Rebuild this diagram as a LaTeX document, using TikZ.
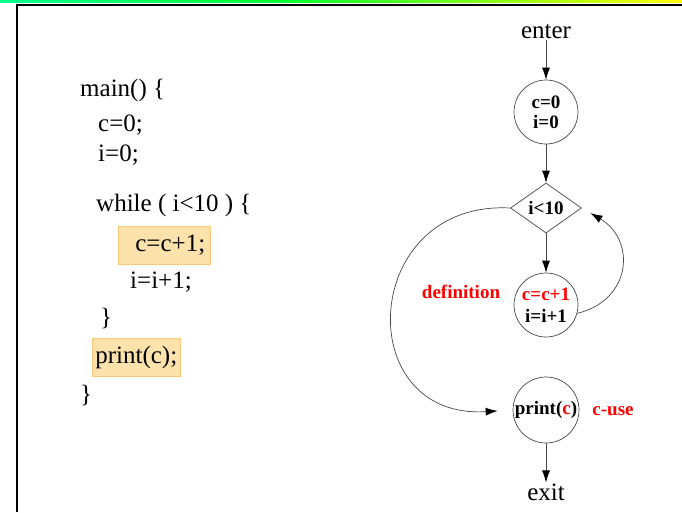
\documentclass[tikz,border=0pt]{standalone}
\usepackage{fontspec}
\setmainfont{Liberation Serif}
\usepackage{xcolor}
\usetikzlibrary{arrows.meta,shapes.geometric}
\definecolor{hlfill}{RGB}{253,226,172}
\definecolor{hlline}{RGB}{246,200,120}
\definecolor{edgegray}{RGB}{70,70,70}
\pgfdeclarehorizontalshading{topbar}{100bp}{%
  color(0bp)=(cyan); color(45bp)=(green!80!cyan); color(75bp)=(yellow); color(100bp)=(orange)}
\tikzset{
  code/.style={anchor=west,inner sep=0pt,font=\fontsize{25}{28}\selectfont},
  hl/.style={fill=hlfill,draw=hlline,line width=.6pt,minimum height=38pt,inner ysep=0pt},
  term/.style={font=\fontsize{25}{28}\selectfont,inner sep=1pt},
  blk/.style={circle,draw=edgegray,line width=.7pt,inner sep=0pt,align=center,
    font=\bfseries\fontsize{19}{19}\selectfont},
  cond/.style={diamond,draw=edgegray,line width=.7pt,inner sep=0pt,aspect=1.42,
    minimum width=71pt,minimum height=50pt,font=\bfseries\fontsize{19}{19}\selectfont},
  flow/.style={line width=.7pt,edgegray,-{Latex[length=12pt,width=8pt,black]}},
  note/.style={text=red,font=\bfseries\fontsize{19}{19}\selectfont}
}
\begin{document}
\begin{tikzpicture}[x=1pt,y=-1pt]
  \useasboundingbox (0,0) rectangle (682,512);
  \shade[shading=topbar] (0,0) rectangle (682,2);
  \draw[line width=2.5pt] (17,512) -- (17,5) -- (682,5);

  % source code
  \node[code] (l1) at (80,90) {main() \{};
  \node[code] (l2) at (98,125) {c=0;};
  \node[code] (l3) at (98,155) {i=0;};
  \node[code] (l4) at (96,205) {while ( i<10 ) \{};
  \node[code,hl,inner xsep=0pt,minimum width=92pt] (l5) at (118,245) {\hspace{12pt}c=c+1;\hfill};
  \node[code] (l6) at (130,282) {i=i+1;};
  \node[code] (l7) at (100,318) {\}};
  \node[code,hl,inner xsep=3pt] (l8) at (92,357) {print(c);};
  \node[code] (l9) at (80,395) {\}};

  % flow graph
  \node[term] (enter) at (546,32) {enter};
  \node[blk,minimum size=64pt] (init) at (546,112) {c=0\\[1pt]i=0};
  \node[cond] (test) at (546,208) {i<10};
  \node[blk,minimum size=64pt] (body) at (546,305) {\textcolor{red}{c=c+1}\\[3pt]i=i+1};
  \node[blk,minimum size=66pt] (use) at (546,410) {print(\textcolor{red}{c})};
  \node[term] (exit) at (546,492) {exit};

  \draw[flow] (enter) -- (init);
  \draw[flow] (init) -- (test);
  \draw[flow] (test) -- (body);
  \draw[flow] (use) -- (exit);
  \draw[flow,shorten >=10pt] (body.-15) .. controls (632,300) and (636,240) .. (test.east);
  \draw[flow,shorten >=15pt] (test.west) .. controls (360,200) and (350,420) .. (use.west);

  \node[note] (def) at (461,292) {definition};
  \node[note] (cuse) at (613,411) {c-use};
\end{tikzpicture}
\end{document}
